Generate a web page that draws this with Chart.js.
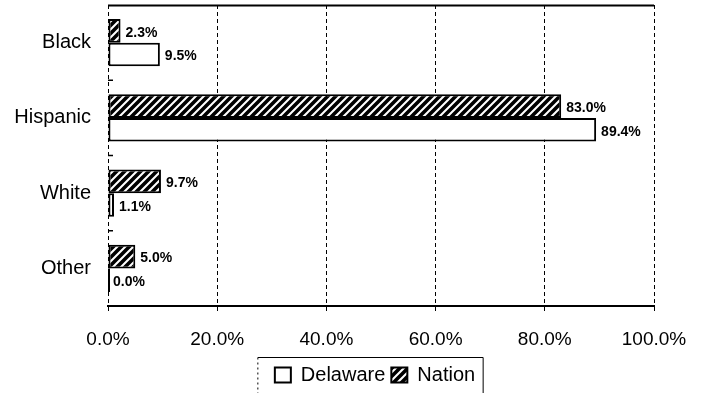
<!DOCTYPE html>
<html>
<head>
<meta charset="utf-8">
<script src="https://cdn.jsdelivr.net/npm/chart.js@4/dist/chart.umd.min.js"></script>
<style>
    html, body { margin: 0; padding: 0; background: #fff; }
    #wrap { width: 701px; height: 393px; position: relative; }
</style>
</head>
<body>
<div id="wrap"><canvas id="myChart" width="701" height="393"></canvas></div>
<script>
var categories = ["Black", "Hispanic", "White", "Other"];
var delawareValues = [9.5, 89.4, 1.1, 0.0];
var nationValues = [2.3, 83.0, 9.7, 5.0];
var xTicks = [0, 20, 40, 60, 80, 100];

function makeHatch() {
    var c = document.createElement("canvas");
    c.width = 8;
    c.height = 8;
    var g = c.getContext("2d");
    g.fillStyle = "#fff";
    g.fillRect(0, 0, 8, 8);
    g.strokeStyle = "#000";
    g.lineWidth = 3.6;
    g.beginPath();
    g.moveTo(-2, 10); g.lineTo(10, -2);
    g.moveTo(-6, 6); g.lineTo(6, -6);
    g.moveTo(2, 14); g.lineTo(14, 2);
    g.stroke();
    return g.createPattern(c, "repeat");
}

// value labels next to each bar
var valueLabels = {
    id: "valueLabels",
    afterDatasetsDraw: function(chart) {
        var ctx = chart.ctx;
        ctx.save();
        ctx.fillStyle = "#000";
        ctx.font = 'bold 14px "Liberation Sans", Arial';
        ctx.textBaseline = "middle";
        chart.data.datasets.forEach(function(ds, i) {
            chart.getDatasetMeta(i).data.forEach(function(bar, j) {
                ctx.fillText(ds.data[j].toFixed(1) + "%", bar.x + 5, bar.y + 2);
            });
        });
        ctx.restore();
    }
};

// move the legend a bit, then draw frame lines and legend box
var frame = {
    id: "frame",
    afterLayout: function(chart) {
        var lg = chart.legend;
        var hb = lg.legendHitBoxes[0];
        var pad = lg.options.labels.padding;
        var h = lg.height;
        lg.top = 375 - pad - hb.height / 2;
        lg.bottom = lg.top + h;
        lg.left += 48;
        lg.right += 48;
    },
    afterDraw: function(chart) {
        var ctx = chart.ctx;
        var a = chart.chartArea;
        ctx.save();
        ctx.strokeStyle = "#000";
        ctx.setLineDash([]);
        ctx.lineWidth = 2;
        ctx.beginPath();
        ctx.moveTo(a.left, a.top + 0.5);
        ctx.lineTo(a.right, a.top + 0.5);
        ctx.stroke();
        // little marks between categories on the left axis
        var y = chart.scales.y;
        ctx.lineWidth = 1.5;
        for (var i = 1; i < categories.length; i++) {
            var yy = (y.getPixelForTick(i - 1) + y.getPixelForTick(i)) / 2;
            ctx.beginPath();
            ctx.moveTo(a.left, yy); ctx.lineTo(a.left + 5, yy);
            ctx.stroke();
        }
        // zero-length bars still show their edge
        chart.data.datasets.forEach(function(ds, i) {
            chart.getDatasetMeta(i).data.forEach(function(bar, j) {
                if (ds.data[j] === 0) {
                    ctx.lineWidth = 2;
                    ctx.beginPath();
                    ctx.moveTo(bar.x + 1, bar.y - bar.height / 2);
                    ctx.lineTo(bar.x + 1, bar.y + bar.height / 2);
                    ctx.stroke();
                }
            });
        });
        // legend border
        var boxes = chart.legend.legendHitBoxes;
        var x0 = boxes[0].left - 17;
        var last = boxes[boxes.length - 1];
        var x1 = last.left + last.width + 8;
        var y0 = 357.5;
        ctx.lineWidth = 1;
        ctx.beginPath();
        ctx.moveTo(x0, y0); ctx.lineTo(x1, y0); ctx.lineTo(x1, chart.height);
        ctx.stroke();
        ctx.setLineDash([2, 3]);
        ctx.beginPath();
        ctx.moveTo(x0, y0); ctx.lineTo(x0, chart.height);
        ctx.stroke();
        ctx.restore();
    }
};

function drawChart() {
    var hatch = makeHatch();
    var ctx = document.getElementById("myChart").getContext("2d");
    var myChart = new Chart(ctx, {
        type: "bar",
        data: {
            labels: categories,
            datasets: [
                {
                    label: "Nation",
                    data: nationValues,
                    backgroundColor: hatch,
                    borderColor: "#000",
                    borderWidth: 2,
                    borderSkipped: false,
                },
                {
                    label: "Delaware",
                    data: delawareValues,
                    backgroundColor: "#fff",
                    borderColor: "#000",
                    borderWidth: 2,
                    borderSkipped: false,
                },
            ],
        },
        options: {
            indexAxis: "y",
            responsive: false,
            animation: false,
            layout: { padding: { left: 0, right: 47, top: 5, bottom: 0 } },
            datasets: {
                bar: { categoryPercentage: 0.63, barPercentage: 1.0 },
            },
            scales: {
                x: {
                    min: 0,
                    max: 100,
                    afterBuildTicks: function(axis) {
                        axis.ticks = xTicks.map(function(v) { return { value: v }; });
                    },
                    afterFit: function(axis) {
                        axis.height = 87 - axis.chart.legend.height;
                        axis.paddingLeft = 0;
                        axis.paddingRight = 0;
                    },
                    ticks: {
                        color: "#000",
                        padding: 17,
                        maxRotation: 0,
                        font: { family: '"Liberation Sans", Arial', size: 19 },
                        callback: function(v) { return v.toFixed(1) + "%"; },
                    },
                    grid: {
                        color: "#000",
                        lineWidth: 1,
                        tickLength: 5,
                    },
                    border: { display: true, color: "#000", width: 2, dash: [4, 3] },
                },
                y: {
                    afterFit: function(axis) {
                        axis.width = 108;
                        axis.paddingTop = 0;
                        axis.paddingBottom = 0;
                    },
                    ticks: {
                        color: "#000",
                        padding: 9,
                        font: { family: '"Liberation Sans", Arial', size: 20 },
                    },
                    grid: { display: false },
                    border: { display: false },
                },
            },
            plugins: {
                legend: {
                    position: "bottom",
                    reverse: true,
                    labels: {
                        color: "#000",
                        boxWidth: 16,
                        boxHeight: 15,
                        padding: 6,
                        font: { family: '"Liberation Sans", Arial', size: 20 },
                    },
                },
                tooltip: { enabled: false },
            },
        },
        plugins: [valueLabels, frame],
    });
}

window.onload = drawChart;
</script>
</body>
</html>
